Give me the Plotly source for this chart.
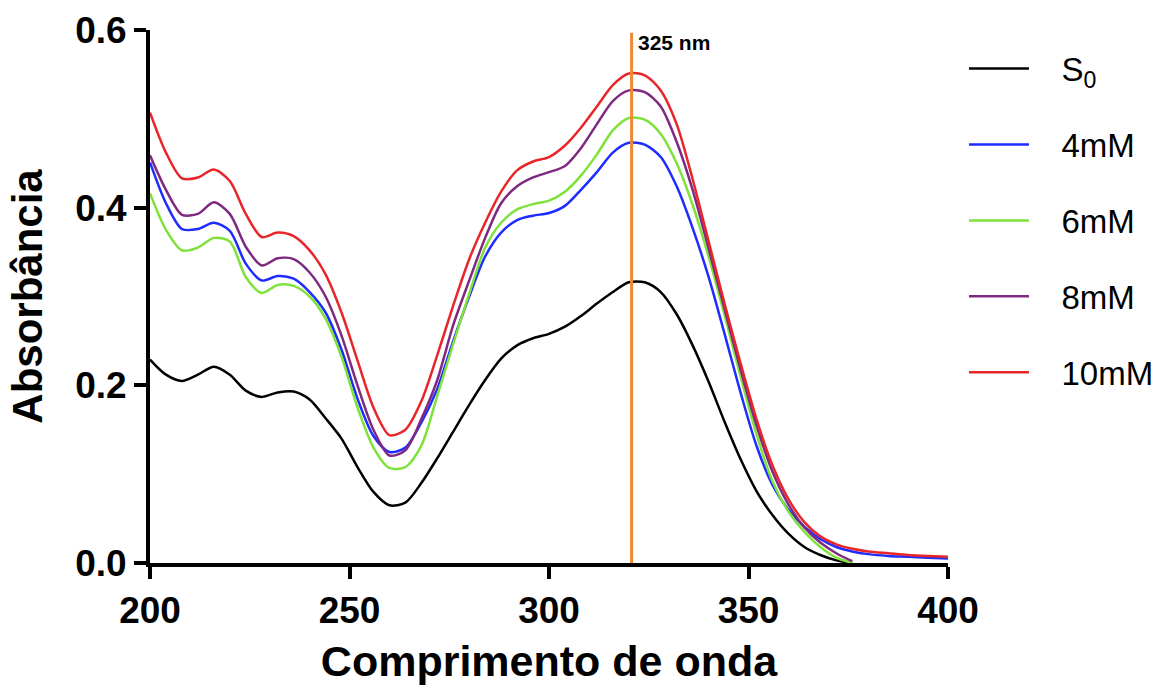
import plotly.graph_objects as go

wavelength = [200, 204, 208, 212, 216, 220, 224, 228, 232, 236, 240, 244, 248, 252, 256,
              260, 264, 268, 272, 276, 280, 284, 288, 292, 296, 300, 304, 308, 312, 316,
              320, 324, 328, 332, 336, 340, 344, 348, 352, 356, 360, 364, 368, 372, 376,
              380, 385, 390, 395, 400]

s0 = [0.229, 0.212, 0.205, 0.212, 0.221, 0.212, 0.194, 0.187, 0.192, 0.193, 0.184, 0.163, 0.140, 0.108, 0.080,
      0.065, 0.068, 0.090, 0.118, 0.148, 0.178, 0.206, 0.230, 0.245, 0.253, 0.258, 0.266, 0.278, 0.292, 0.305,
      0.316, 0.316, 0.305, 0.280, 0.245, 0.204, 0.159, 0.117, 0.081, 0.054, 0.033, 0.018, 0.009, 0.003, 0.0,
      None, None, None, None, None]

mm4 = [0.451, 0.405, 0.376, 0.376, 0.383, 0.374, 0.337, 0.318, 0.323, 0.320, 0.305, 0.282, 0.240, 0.185, 0.143,
       0.125, 0.130, 0.158, 0.196, 0.250, 0.300, 0.345, 0.372, 0.386, 0.391, 0.394, 0.402, 0.420, 0.440, 0.462,
       0.473, 0.471, 0.457, 0.424, 0.377, 0.322, 0.258, 0.192, 0.132, 0.088, 0.060, 0.041, 0.027, 0.018, 0.013,
       0.010, 0.008, 0.007, 0.006, 0.005]

mm6 = [0.416, 0.375, 0.352, 0.355, 0.366, 0.362, 0.322, 0.304, 0.313, 0.312, 0.300, 0.275, 0.232, 0.175, 0.130,
       0.107, 0.108, 0.132, 0.188, 0.247, 0.303, 0.355, 0.383, 0.398, 0.404, 0.408, 0.418, 0.436, 0.460, 0.487,
       0.501, 0.499, 0.483, 0.450, 0.403, 0.345, 0.279, 0.210, 0.145, 0.092, 0.058, 0.035, 0.018, 0.006, 0.0,
       None, None, None, None, None]

mm8 = [0.459, 0.420, 0.392, 0.393, 0.406, 0.393, 0.356, 0.335, 0.343, 0.342, 0.327, 0.300, 0.256, 0.200, 0.150,
       0.121, 0.127, 0.162, 0.206, 0.268, 0.318, 0.366, 0.405, 0.424, 0.434, 0.440, 0.447, 0.467, 0.494, 0.520,
       0.532, 0.530, 0.514, 0.474, 0.420, 0.354, 0.286, 0.218, 0.155, 0.103, 0.066, 0.040, 0.023, 0.011, 0.002,
       None, None, None, None, None]

mm10 = [0.507, 0.462, 0.433, 0.434, 0.443, 0.430, 0.393, 0.367, 0.372, 0.368, 0.352, 0.325, 0.282, 0.228, 0.175,
        0.144, 0.150, 0.182, 0.234, 0.290, 0.342, 0.383, 0.418, 0.442, 0.452, 0.457, 0.470, 0.490, 0.514, 0.538,
        0.551, 0.549, 0.532, 0.494, 0.432, 0.362, 0.292, 0.225, 0.162, 0.110, 0.072, 0.046, 0.030, 0.021, 0.016,
        0.013, 0.011, 0.009, 0.008, 0.007]

series_names = ["S<sub>0</sub>", "4mM", "6mM", "8mM", "10mM"]
series_values = [s0, mm4, mm6, mm8, mm10]
series_colors = ["#000000", "#1f2cff", "#7ee23a", "#7f2a80", "#e8262a"]

marker_wavelength = 320.7
marker_label = "325 nm"
x_ticks = [200, 250, 300, 350, 400]
y_ticks = [0.0, 0.2, 0.4, 0.6]

FONT = "Liberation Sans, Arial, Helvetica, sans-serif"
PAD = "\u00a0\u00a0\u00a0"

fig = go.Figure()

for name, vals, col in zip(series_names, series_values, series_colors):
    fig.add_trace(go.Scatter(
        x=wavelength, y=vals, mode="lines", name=PAD + name,
        line=dict(color=col, width=2.5, shape="spline", smoothing=0.8),
        legendgroup=name, connectgaps=False,
    ))

fig.add_trace(go.Scatter(
    x=[marker_wavelength, marker_wavelength], y=[0, 0.597], mode="lines",
    line=dict(color="#ee8a33", width=3), showlegend=False, hoverinfo="skip",
))

fig.add_annotation(
    x=marker_wavelength, y=0.586, xref="x", yref="y", text="<b>" + marker_label + "</b>",
    showarrow=False, xanchor="left", xshift=4, yanchor="middle",
    font=dict(family=FONT, size=21, color="#000000"),
)

fig.update_layout(
    width=1163, height=690,
    margin=dict(l=150, r=215, t=30, b=127, autoexpand=False),
    paper_bgcolor="white", plot_bgcolor="white",
    font=dict(family=FONT, color="#000000"),
    showlegend=True,
    legend=dict(
        x=1.02, xanchor="left", y=0.98, yanchor="top",
        font=dict(family=FONT, size=33, color="#000000"),
        tracegroupgap=30, itemwidth=60,
        bgcolor="rgba(0,0,0,0)",
    ),
)

fig.update_xaxes(
    range=[200, 400], tickvals=x_ticks, ticktext=[str(v) for v in x_ticks],
    showgrid=False, zeroline=False, showline=True, linecolor="#000000", linewidth=4,
    ticks="outside", ticklen=12, tickwidth=4, tickcolor="#000000", automargin=False,
    tickfont=dict(family=FONT, size=37, color="#000000", weight="bold"),
    title=dict(text="<b>Comprimento de onda</b>", font=dict(family=FONT, size=43, color="#000000"),
               standoff=16),
)
fig.update_yaxes(
    range=[0, 0.6], tickvals=y_ticks, ticktext=["%.1f" % v for v in y_ticks],
    showgrid=False, zeroline=False, showline=True, linecolor="#000000", linewidth=4,
    ticks="outside", ticklen=12, tickwidth=4, tickcolor="#000000", automargin=False,
    tickfont=dict(family=FONT, size=37, color="#000000", weight="bold"),
    title=dict(text="<b>Absorbância</b>", font=dict(family=FONT, size=42, color="#000000"),
               standoff=20),
)

fig.write_html("out.html")
